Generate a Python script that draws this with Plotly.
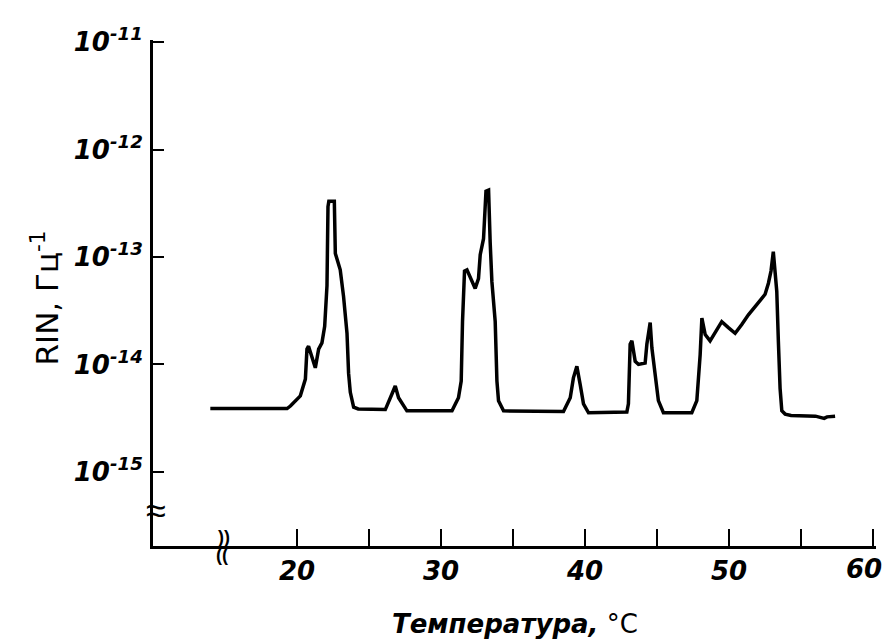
import plotly.graph_objects as go

# Temperature, °C
temperature = [13.98, 17.0, 19.31, 19.54, 20.23, 20.58, 20.69, 20.80, 21.27, 21.50, 21.73, 21.92,
               22.08, 22.15, 22.21, 22.59, 22.66, 23.00, 23.23, 23.47, 23.58, 23.70, 23.93, 24.25,
               26.13, 26.59, 26.82, 27.05, 27.63,
               30.76, 31.21, 31.40, 31.49, 31.63, 31.80, 32.37, 32.60, 32.72, 32.95, 33.12, 33.30,
               33.41, 33.53, 33.76, 33.88, 33.99, 34.34,
               38.50, 38.97, 39.19, 39.43, 39.66, 39.89, 40.24,
               42.90, 43.01, 43.13, 43.25, 43.48, 43.71, 44.17, 44.29, 44.52, 44.64, 44.87, 45.09, 45.44,
               47.41, 47.76, 47.87, 47.99, 48.11, 48.34, 48.68, 49.03, 49.49, 49.95, 50.42, 50.88,
               51.34, 51.92, 52.50, 52.73, 52.91, 53.07, 53.19, 53.31, 53.42, 53.54, 53.66, 53.89,
               54.3, 56.0, 56.6, 56.8, 57.36]

# RIN, Hz^-1
rin = [3.88e-15, 3.85e-15, 3.88e-15, 4.1e-15, 5.1e-15, 7.3e-15, 1.39e-14, 1.48e-14, 9.3e-15, 1.39e-14, 1.59e-14, 2.26e-14,
       5.4e-14, 2.95e-13, 3.3e-13, 3.3e-13, 1.08e-13, 7.6e-14, 4.3e-14, 1.95e-14, 8.3e-15, 5.5e-15, 4.0e-15, 3.85e-15,
       3.8e-15, 5.3e-15, 6.3e-15, 4.9e-15, 3.7e-15,
       3.7e-15, 4.9e-15, 7.0e-15, 2.5e-14, 7.4e-14, 7.6e-14, 5.1e-14, 6.3e-14, 1.05e-13, 1.48e-13, 4.1e-13, 4.2e-13,
       1.38e-13, 5.9e-14, 2.5e-14, 7.0e-15, 4.6e-15, 3.7e-15,
       3.65e-15, 4.9e-15, 7.5e-15, 9.6e-15, 6.5e-15, 4.3e-15, 3.55e-15,
       3.6e-15, 4.3e-15, 1.54e-14, 1.66e-14, 1.07e-14, 1.0e-14, 1.03e-14, 1.54e-14, 2.45e-14, 1.42e-14, 7.5e-15, 4.6e-15, 3.55e-15,
       3.55e-15, 4.6e-15, 7.0e-15, 1.23e-14, 2.7e-14, 1.9e-14, 1.66e-14, 2.0e-14, 2.5e-14, 2.2e-14, 1.95e-14, 2.35e-14,
       2.9e-14, 3.6e-14, 4.5e-14, 5.7e-14, 7.4e-14, 1.12e-13, 6.8e-14, 4.8e-14, 1.66e-14, 6.0e-15, 3.7e-15, 3.45e-15,
       3.35e-15, 3.3e-15, 3.15e-15, 3.25e-15, 3.3e-15]

x_tickvals = [20, 25, 30, 35, 40, 45, 50, 55, 60]
x_ticktext = ["20", "", "30", "", "40", "", "50", "", ""]
x_last_label = "60"
y_tickvals = [1e-15, 1e-14, 1e-13, 1e-12, 1e-11]
y_ticktext = ["10<sup>-15</sup>", "10<sup>-14</sup>", "10<sup>-13</sup>", "10<sup>-12</sup>", "10<sup>-11</sup>"]

FONT = "Liberation Sans, Arial, sans-serif"
TICKFONT = "DejaVu Sans, sans-serif"
tickfont = dict(family=TICKFONT, size=26, weight="bold", style="italic", color="black")

fig = go.Figure()
fig.add_trace(go.Scatter(x=temperature, y=rin, mode="lines",
                         line=dict(color="black", width=3.5), hoverinfo="skip"))

fig.update_layout(
    width=885, height=639,
    margin=dict(l=153, r=9, t=40, b=93, autoexpand=False),
    paper_bgcolor="white", plot_bgcolor="white",
    showlegend=False,
    font=dict(family=FONT, color="black"),
)
fig.update_xaxes(
    range=[10, 60.2], showgrid=False, zeroline=False, automargin=False,
    showline=True, linecolor="black", linewidth=3,
    ticks="inside", ticklen=17, tickwidth=2, tickcolor="black",
    tickvals=x_tickvals, ticktext=x_ticktext,
    tickfont=tickfont,
    ticklabelstandoff=0, ticklabeloverflow="allow",
)
fig.update_yaxes(
    type="log", range=[-15.69, -10.98], showgrid=False, zeroline=False, automargin=False,
    showline=True, linecolor="black", linewidth=3,
    ticks="inside", ticklen=11, tickwidth=2, tickcolor="black",
    tickvals=y_tickvals, ticktext=y_ticktext,
    tickfont=tickfont,
    ticklabelstandoff=2, ticklabeloverflow="allow",
)

# last x tick label, nudged left so it stays inside the page
fig.add_annotation(xref="x", yref="paper", x=x_tickvals[-1], y=0, yanchor="top", yshift=-6,
                   xanchor="center", xshift=-9, text=x_last_label, showarrow=False,
                   font=tickfont)

# axis titles
fig.add_annotation(xref="paper", yref="paper", x=0.5, y=-0.155, yanchor="middle",
                   text="<b><i>Температура,</i></b> °C", showarrow=False,
                   font=dict(family="DejaVu Sans, sans-serif", size=26, color="black"))
fig.add_annotation(xref="paper", yref="paper", x=-0.15, y=0.5, textangle=-90,
                   xshift=-22, yshift=-5,
                   text="RIN, Гц<sup>-1</sup>", showarrow=False,
                   font=dict(family="DejaVu Sans, sans-serif", size=31, color="black"))

# axis break marks
fig.add_annotation(xref="paper", yref="y", x=0, y=-15.36, xshift=-9, text="≈", showarrow=False,
                   font=dict(family=FONT, size=36, color="black"))
fig.add_annotation(xref="x", yref="paper", x=14.92, y=0, yanchor="middle", yshift=9, text="))",
                   showarrow=False, font=dict(family=FONT, size=18, color="black", weight="bold"))
fig.add_annotation(xref="x", yref="paper", x=14.82, y=0, yanchor="middle", yshift=-9, text="((",
                   showarrow=False, font=dict(family=FONT, size=18, color="black", weight="bold"))

fig.write_html("out.html", post_script="document.body.style.margin='0';",
               config={"displayModeBar": False})
